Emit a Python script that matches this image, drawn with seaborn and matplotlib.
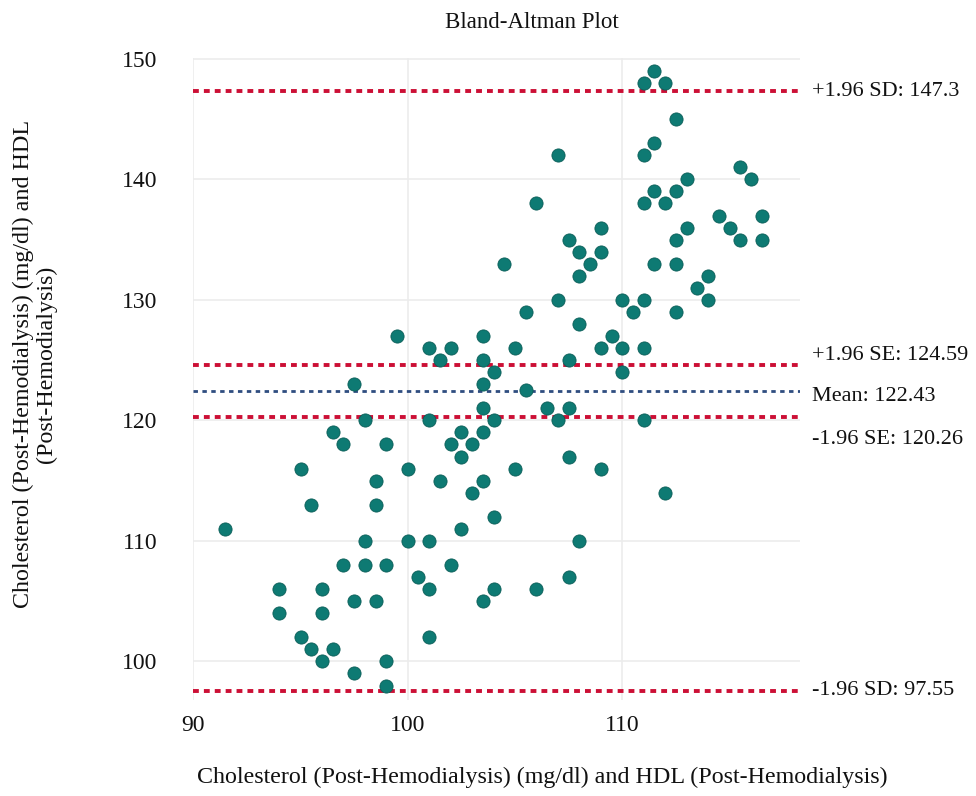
import pandas as pd
import matplotlib
matplotlib.use("Agg")
import matplotlib.pyplot as plt
import seaborn as sns

# points (x = mean, y = value)
x_vals = [97.5, 98, 96.5, 97, 99, 95, 98.5, 95.5, 98.5, 91.5, 98, 97, 98, 99, 94, 96,
          97.5, 98.5, 94, 96, 95, 95.5, 96.5, 96, 99, 97.5, 99,
          99.5, 105.5, 108, 101, 102, 103.5, 105, 109, 101.5, 103.5, 107.5, 104, 103.5,
          105.5, 103.5, 106.5, 107.5, 101, 104, 107, 102.5, 103.5, 102, 103, 102.5, 107.5,
          100, 105, 109, 101.5, 103.5, 103, 104, 102.5, 100, 101, 108, 102, 100.5, 101,
          104, 106, 103.5, 107.5, 101,
          107, 106, 107.5, 108, 109, 108.5, 108, 104.5, 107, 109,
          111, 111.5, 112, 112.5, 111.5, 111, 115.5, 116, 113, 111.5, 112.5, 111, 112,
          114.5, 116.5, 115, 115.5, 116.5, 113, 112.5, 111.5, 112.5, 114, 113.5, 114, 110,
          111, 110.5, 112.5, 109.5, 110, 111, 110,
          111, 112]
y_vals = [123, 120, 119, 118, 118, 116, 115, 113, 113, 111, 110, 108, 108, 108, 106, 106,
          105, 105, 104, 104, 102, 101, 101, 100, 100, 99, 98,
          127, 129, 128, 126, 126, 127, 126, 126, 125, 125, 125, 124, 123,
          122.5, 121, 121, 121, 120, 120, 120, 119, 119, 118, 118, 117, 117,
          116, 116, 116, 115, 115, 114, 112, 111, 110, 110, 110, 108, 107, 106,
          106, 106, 105, 107, 102,
          142, 138, 135, 134, 134, 133, 132, 133, 130, 136,
          148, 149, 148, 145, 143, 142, 141, 140, 140, 139, 139, 138, 138,
          137, 137, 136, 135, 135, 136, 135, 133, 133, 132, 131, 130, 130,
          130, 129, 129, 127, 126, 126, 124,
          120, 114]

line_names = ["+1.96 SD", "+1.96 SE", "Mean", "-1.96 SE", "-1.96 SD"]
line_vals = [147.3, 124.59, 122.43, 120.26, 97.55]
line_text = ["147.3", "124.59", "122.43", "120.26", "97.55"]

df = pd.DataFrame({"x": x_vals, "y": y_vals})

sns.set_theme(style="whitegrid")
plt.rcParams["font.family"] = ["Liberation Serif", "DejaVu Serif"]

fig = plt.figure(figsize=(9.76, 7.96), dpi=100)
ax = fig.add_axes([0.198, 0.1206, 0.622, 0.807])

sns.scatterplot(data=df, x="x", y="y", ax=ax, s=90, color="#0e7a73",
                edgecolor="#0b5e58", linewidth=0.6, zorder=3)

red = "#cc0f35"
blue = "#2f4d80"
offsets = [0, 7, -4, -16, 0]
for name, val, txt, off in zip(line_names, line_vals, line_text, offsets):
    if name == "Mean":
        ax.axhline(val, color=blue, lw=2.0, ls=(0, (1.6, 1.6)), zorder=2)
    else:
        ax.axhline(val, color=red, lw=2.8, ls=(0, (1.5, 1.3)), zorder=2)
    ax.annotate(f"{name}: {txt}", xy=(1.02, val), xycoords=("axes fraction", "data"),
                xytext=(0, off), textcoords="offset points",
                ha="left", va="center", fontsize=16, color="#111111")

ax.set_xlim(90, 118.3)
ax.set_ylim(96.8, 150.1)
ax.set_xticks([90, 100, 110])
ax.set_yticks([100, 110, 120, 130, 140, 150])
ax.grid(True, color="#ececec", lw=1.2)
for sp in ax.spines.values():
    sp.set_visible(False)
ax.set_facecolor("white")
ax.tick_params(axis="both", labelsize=17, colors="#111111")
ax.tick_params(axis="y", pad=20)
ax.tick_params(axis="x", pad=5)
ax.set_xlabel("")
ax.set_ylabel("")

fig.text(532 / 976, 1 - 22 / 796, "Bland-Altman Plot", ha="center", va="center",
         fontsize=16.5, color="#111111")
fig.text(542 / 976, 1 - 777 / 796,
         "Cholesterol (Post-Hemodialysis) (mg/dl) and HDL (Post-Hemodialysis)",
         ha="center", va="center", fontsize=17.3, color="#111111")
fig.text(35 / 976, 1 - 364 / 796,
         "Cholesterol (Post-Hemodialysis) (mg/dl) and HDL\n(Post-Hemodialysis)",
         ha="center", va="center", rotation=90, fontsize=17.3, color="#111111",
         multialignment="center", linespacing=1.15)

fig.savefig("out.png", dpi=100)
